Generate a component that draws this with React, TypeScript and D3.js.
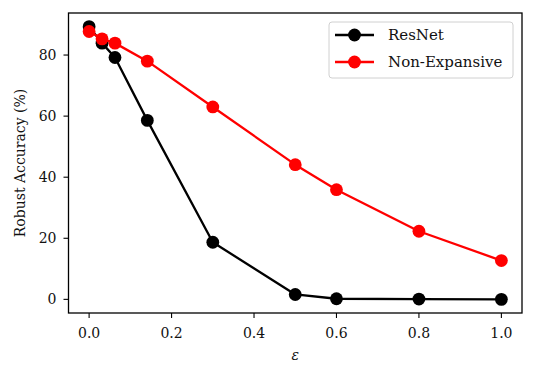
import React from "react";
import * as d3 from "d3";

const epsilons = [0, 8 / 255, 16 / 255, 36 / 255, 0.3, 0.5, 0.6, 0.8, 1.0];
const resnet = [89.3, 83.9, 79.2, 58.6, 18.7, 1.6, 0.2, 0.1, 0.0];
const nonExpansive = [87.7, 85.3, 83.9, 78.0, 63.0, 44.1, 35.9, 22.3, 12.7];
const xTicks = [0, 0.2, 0.4, 0.6, 0.8, 1.0];
const yTicks = [0, 20, 40, 60, 80];
const seriesNames = ["ResNet", "Non-Expansive"];
const seriesColors = ["#000000", "#ff0000"];

const W = 535;
const H = 378;
const m = { left: 68.5, right: 522, top: 13, bottom: 313 };
const FONT = "'DejaVu Serif', serif";

export default function App() {
  const allY = [...resnet, ...nonExpansive];
  const yMin = d3.min(allY)!;
  const yMax = d3.max(allY)!;
  const yPad = (yMax - yMin) * 0.05;
  const x = d3.scaleLinear().domain([-0.05, 1.05]).range([m.left, m.right]);
  const y = d3.scaleLinear().domain([yMin - yPad, yMax + yPad]).range([m.bottom, m.top]);
  const line = d3
    .line<[number, number]>()
    .x((d) => x(d[0]))
    .y((d) => y(d[1]));
  const series = [resnet, nonExpansive].map((vals) => vals.map((v, i) => [epsilons[i], v] as [number, number]));
  const fs = 14;

  return (
    <svg width={W} height={H} style={{ position: "absolute", left: 0, top: 0, background: "#fff" }}>
      <rect x={0} y={0} width={W} height={H} fill="#fff" />
      {series.map((pts, si) => (
        <g key={si}>
          <path d={line(pts)!} fill="none" stroke={seriesColors[si]} strokeWidth={2.3} strokeLinejoin="round" />
          {pts.map((p, i) => (
            <circle key={i} cx={x(p[0])} cy={y(p[1])} r={6.4} fill={seriesColors[si]} />
          ))}
        </g>
      ))}
      <rect x={m.left} y={m.top} width={m.right - m.left} height={m.bottom - m.top} fill="none" stroke="#000" strokeWidth={1.3} />
      {xTicks.map((t) => (
        <g key={t}>
          <line x1={x(t)} x2={x(t)} y1={m.bottom} y2={m.bottom + 5} stroke="#000" strokeWidth={1.1} />
          <text x={x(t)} y={m.bottom + 25} textAnchor="middle" fontFamily={FONT} fontSize={fs} fill="#111">
            {t.toFixed(1)}
          </text>
        </g>
      ))}
      {yTicks.map((t) => (
        <g key={t}>
          <line x1={m.left - 5} x2={m.left} y1={y(t)} y2={y(t)} stroke="#000" strokeWidth={1.1} />
          <text x={m.left - 12} y={y(t)} dy="0.35em" textAnchor="end" fontFamily={FONT} fontSize={fs} fill="#111">
            {t}
          </text>
        </g>
      ))}
      <text x={(m.left + m.right) / 2} y={360} textAnchor="middle" fontFamily={FONT} fontSize={fs} fontStyle="italic" fill="#111">
        ε
      </text>
      <text
        transform={`translate(25,${(m.top + m.bottom) / 2}) rotate(-90)`}
        textAnchor="middle"
        fontFamily={FONT}
        fontSize={fs}
        fill="#111"
      >
        Robust Accuracy (%)
      </text>
      <g>
        <rect x={329} y={22} width={184} height={56} rx={3} fill="#fff" fillOpacity={0.8} stroke="#d0d0d0" strokeWidth={1} />
        {seriesNames.map((n, i) => (
          <g key={n} transform={`translate(0,${35 + i * 27})`}>
            <line x1={335} x2={374} y1={0} y2={0} stroke={seriesColors[i]} strokeWidth={2.3} />
            <circle cx={354.5} cy={0} r={6.4} fill={seriesColors[i]} />
            <text x={388} y={0} dy="0.35em" fontFamily={FONT} fontSize={15} fill="#111">
              {n}
            </text>
          </g>
        ))}
      </g>
    </svg>
  );
}
